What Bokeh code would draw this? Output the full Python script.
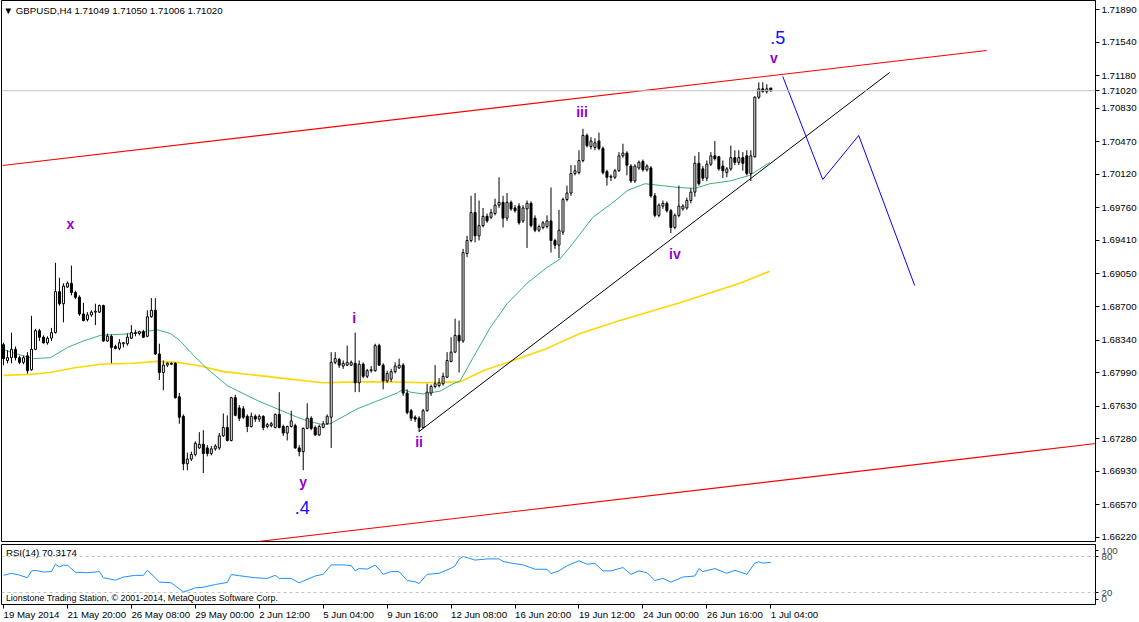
from bokeh.plotting import figure
from bokeh.models import Range1d, FixedTicker, Span, Label
from bokeh.layouts import column
from bokeh.embed import file_html
from bokeh.resources import INLINE
from bokeh.core.properties import value

FONT = "Liberation Sans"

# ---------------- data (GBPUSD H4) ----------------
opens = [1.6829,1.6812,1.6815,1.6824,1.6815,1.6810,1.6817,1.6802,1.6824,1.6844,1.6837,1.6831,1.6836,1.6842,1.6886,1.6873,1.6891,1.6895,1.6885,1.6880,
         1.6862,1.6856,1.6861,1.6864,1.6864,1.6871,1.6833,1.6838,1.6827,1.6825,1.6830,1.6830,1.6836,1.6841,1.6841,1.6843,1.6838,1.6859,1.6866,1.6819,
         1.6799,1.6807,1.6808,1.6809,1.6773,1.6752,1.6701,1.6706,1.6711,1.6718,1.6722,1.6718,1.6712,1.6717,1.6718,1.6731,1.6740,1.6726,1.6772,1.6761,
         1.6760,1.6752,1.6741,1.6752,1.6749,1.6752,1.6741,1.6742,1.6740,1.6754,1.6741,1.6734,1.6741,1.6742,1.6718,1.6714,1.6739,1.6750,1.6740,1.6732,
         1.6740,1.6744,1.6751,1.6810,1.6813,1.6806,1.6807,1.6807,1.6809,1.6788,1.6808,1.6795,1.6801,1.6801,1.6828,1.6807,1.6790,1.6792,1.6800,1.6804,
         1.6807,1.6777,1.6758,1.6751,1.6750,1.6740,1.6758,1.6777,1.6784,1.6785,1.6787,1.6794,1.6811,1.6821,1.6839,1.6833,1.6927,1.6941,1.6971,1.6946,
         1.6957,1.6967,1.6966,1.6970,1.6979,1.6982,1.6965,1.6982,1.6976,1.6978,1.6962,1.6975,1.6981,1.6965,1.6952,1.6955,1.6956,1.6962,1.6941,1.6936,
         1.6950,1.6985,1.6992,1.7013,1.7014,1.7027,1.7054,1.7042,1.7041,1.7048,1.7040,1.7015,1.7009,1.7009,1.7016,1.7032,1.7035,1.7021,1.7005,1.7019,
         1.7026,1.7017,1.7019,1.6989,1.6968,1.6978,1.6981,1.6973,1.6955,1.6968,1.6975,1.6976,1.6984,1.6993,1.7024,1.7018,1.7008,1.7023,1.7032,1.7031,
         1.7021,1.7014,1.7018,1.7030,1.7025,1.7030,1.7032,1.7013,1.7031,1.7095,1.7104,1.7101,1.71049]
highs = [1.6831,1.6823,1.6842,1.6827,1.6817,1.6817,1.6821,1.6860,1.6846,1.6846,1.6839,1.6838,1.6847,1.6917,1.6901,1.6895,1.6897,1.6914,1.6887,1.6882,
         1.6874,1.6864,1.6866,1.6873,1.6872,1.6872,1.6841,1.6840,1.6829,1.6835,1.6832,1.6841,1.6850,1.6845,1.6844,1.6845,1.6866,1.6879,1.6879,1.6830,
         1.6812,1.6810,1.6810,1.6810,1.6777,1.6754,1.6713,1.6714,1.6725,1.6735,1.6737,1.6721,1.6720,1.6722,1.6734,1.6755,1.6753,1.6773,1.6775,1.6764,
         1.6763,1.6754,1.6756,1.6754,1.6754,1.6753,1.6745,1.6746,1.6755,1.6778,1.6743,1.6742,1.6758,1.6744,1.6721,1.6740,1.6766,1.6752,1.6742,1.6743,
         1.6747,1.6754,1.6821,1.6821,1.6815,1.6812,1.6828,1.6812,1.6842,1.6812,1.6810,1.6803,1.6806,1.6830,1.6830,1.6809,1.6801,1.6803,1.6810,1.6814,
         1.6809,1.6781,1.6760,1.6753,1.6752,1.6760,1.6787,1.6786,1.6807,1.6793,1.6799,1.6821,1.6837,1.6857,1.6855,1.6932,1.6946,1.6989,1.6992,1.6984,
         1.6976,1.6970,1.6975,1.6986,1.7009,1.6989,1.6992,1.6984,1.6979,1.6981,1.6979,1.6984,1.6983,1.6968,1.6958,1.6962,1.6968,1.6998,1.6943,1.6974,
         1.6987,1.7000,1.7022,1.7022,1.7038,1.7061,1.7056,1.7052,1.7051,1.7057,1.7042,1.7017,1.7012,1.7018,1.7036,1.7045,1.7037,1.7023,1.7023,1.7027,
         1.7028,1.7023,1.7021,1.6992,1.6981,1.6984,1.6983,1.6975,1.6970,1.7000,1.6980,1.6987,1.6997,1.7032,1.7036,1.7021,1.7027,1.7036,1.7048,1.7032,
         1.7027,1.7020,1.7043,1.7038,1.7038,1.7036,1.7038,1.7038,1.7096,1.7111,1.7111,1.7109,1.71050]
lows = [1.6807,1.6809,1.6809,1.6812,1.6808,1.6808,1.6798,1.6801,1.6823,1.6833,1.6830,1.6829,1.6833,1.6841,1.6871,1.6853,1.6890,1.6882,1.6878,1.6860,
        1.6854,1.6854,1.6859,1.6850,1.6863,1.6832,1.6832,1.6809,1.6824,1.6823,1.6826,1.6828,1.6835,1.6838,1.6839,1.6836,1.6837,1.6858,1.6818,1.6791,
        1.6780,1.6805,1.6807,1.6771,1.6744,1.6694,1.6694,1.6704,1.6709,1.6717,1.6691,1.6709,1.6710,1.6715,1.6716,1.6730,1.6725,1.6725,1.6752,1.6747,
        1.6749,1.6735,1.6740,1.6746,1.6746,1.6737,1.6739,1.6740,1.6739,1.6739,1.6731,1.6726,1.6740,1.6717,1.6709,1.6694,1.6738,1.6737,1.6731,1.6731,
        1.6739,1.6743,1.6718,1.6808,1.6804,1.6803,1.6806,1.6806,1.6778,1.6778,1.6793,1.6793,1.6799,1.6800,1.6806,1.6781,1.6788,1.6789,1.6798,1.6803,
        1.6774,1.6754,1.6747,1.6746,1.6735,1.6739,1.6757,1.6774,1.6782,1.6783,1.6785,1.6793,1.6810,1.6820,1.6799,1.6831,1.6923,1.6939,1.6939,1.6941,
        1.6955,1.6960,1.6964,1.6968,1.6976,1.6955,1.6962,1.6973,1.6971,1.6958,1.6960,1.6933,1.6955,1.6950,1.6950,1.6953,1.6954,1.6928,1.6932,1.6922,
        1.6947,1.6983,1.6989,1.7011,1.7012,1.7025,1.7041,1.7039,1.7038,1.7038,1.7012,1.7000,1.7005,1.7007,1.7015,1.7030,1.7011,1.7003,1.7003,1.7017,
        1.7015,1.7015,1.6987,1.6966,1.6966,1.6975,1.6971,1.6949,1.6953,1.6966,1.6973,1.6974,1.6981,1.6988,1.7000,1.7005,1.7005,1.7021,1.7027,1.7016,
        1.7008,1.7009,1.7016,1.7022,1.7022,1.7016,1.7011,1.7005,1.7030,1.7093,1.7100,1.7099,1.71006]
closes = [1.6814,1.6815,1.6824,1.6815,1.6810,1.6815,1.6801,1.6824,1.6844,1.6837,1.6831,1.6836,1.6842,1.6886,1.6873,1.6892,1.6895,1.6885,1.6880,1.6862,
          1.6855,1.6861,1.6864,1.6865,1.6871,1.6833,1.6838,1.6826,1.6825,1.6831,1.6831,1.6837,1.6842,1.6842,1.6843,1.6837,1.6859,1.6866,1.6819,1.6799,
          1.6807,1.6809,1.6809,1.6772,1.6751,1.6701,1.6706,1.6711,1.6723,1.6722,1.6712,1.6712,1.6717,1.6720,1.6731,1.6740,1.6726,1.6772,1.6753,1.6750,
          1.6751,1.6741,1.6752,1.6749,1.6752,1.6740,1.6743,1.6744,1.6754,1.6740,1.6734,1.6741,1.6747,1.6718,1.6714,1.6739,1.6750,1.6739,1.6732,1.6741,
          1.6744,1.6752,1.6810,1.6814,1.6807,1.6809,1.6810,1.6810,1.6788,1.6808,1.6795,1.6801,1.6802,1.6828,1.6807,1.6790,1.6798,1.6800,1.6806,1.6807,
          1.6777,1.6756,1.6750,1.6749,1.6740,1.6758,1.6778,1.6784,1.6787,1.6788,1.6795,1.6812,1.6821,1.6839,1.6833,1.6928,1.6941,1.6971,1.6946,1.6957,
          1.6967,1.6962,1.6971,1.6979,1.6982,1.6965,1.6982,1.6975,1.6973,1.6960,1.6976,1.6981,1.6957,1.6952,1.6956,1.6960,1.6962,1.6941,1.6936,1.6952,
          1.6985,1.6992,1.7013,1.7016,1.7027,1.7054,1.7043,1.7048,1.7046,1.7040,1.7014,1.7009,1.7010,1.7016,1.7032,1.7035,1.7022,1.7005,1.7021,1.7025,
          1.7017,1.7021,1.6989,1.6968,1.6979,1.6981,1.6973,1.6955,1.6968,1.6978,1.6978,1.6984,1.6993,1.7024,1.7002,1.7008,1.7023,1.7032,1.7029,1.7018,
          1.7016,1.7018,1.7030,1.7025,1.7030,1.7024,1.7013,1.7032,1.7095,1.7104,1.7101,1.7104,1.71020]

# moving averages (read as vertices: bar index, price)
ma_fast_bar = [0,1.75,7.5,11.75,16,20,24.25,32.5,38.5,41.75,44.25,46.75,51,56,63.5,68.5,73.5,76.75,80,81.75,88.5,95,98.5,100,101.75,105,109.25,
               112.5,114.25,117.5,121.75,126,131,136,139.25,142.5,147.5,152.25,156.25,160.5,164.75,168.75,173,176.75,181.75,186.75,189.25,191.75]
ma_fast_val = [1.6824,1.6821,1.6814,1.6815,1.6826,1.6833,1.6839,1.6841,1.6845,1.6841,1.6833,1.6821,1.6803,1.6785,1.6769,1.6760,1.6751,1.6746,1.6743,1.6744,
               1.6760,1.6771,1.6777,1.6781,1.6778,1.6776,1.6779,1.6787,1.6790,1.6815,1.6847,1.6873,1.6895,1.6912,1.6921,1.6938,1.6966,1.6981,1.6995,1.7002,
               1.7000,1.6998,1.6997,1.7002,1.7005,1.7011,1.7018,1.7025]
ma_slow_bar = [0,6,11.75,17.5,24.25,32.5,38.5,43.5,49.25,55,63.5,71.75,80,88.5,96.75,105,114.25,120,127.5,136,144.25,154.25,169.25,184.25,191.75]
ma_slow_val = [1.6796,1.6797,1.6799,1.6804,1.6808,1.6809,1.6811,1.6810,1.6806,1.6800,1.6796,1.6792,1.6788,1.6789,1.6789,1.6788,1.6789,1.6801,1.6812,
               1.6825,1.6841,1.6855,1.6874,1.6895,1.6908]

# RSI(14) vertices
rsi_bar = [0,2,4,6,7,8,10,12,13,14,15,16,18,21,24,25,28,30,33,35,36,38,39,42,45,46,48,50,53,54,56,57,59,63,66,68,69,72,74,75,78,80,82,85,87,88,89,
           91,93,94,95,97,99,101,103,104,106,109,112,113,114,115,118,121,124,125,127,130,133,136,137,139,141,144,146,148,150,152,155,157,159,161,163,
           165,167,170,173,174,175,178,181,183,186,188,189,190,192]
rsi_val = [48.6,52,49,44.6,56,57,54,55,67,62.7,65.5,65.5,53.7,53,54.8,44.6,40.7,45.8,48.6,48.6,57,44.6,37.3,36,20.9,23,27.7,28.8,33.3,34.5,36.7,50,48,
           44.6,43.5,48.6,43.5,43.5,36,39,47.5,50.3,66,66,64.9,56,59.9,59,65.5,58.8,50.3,54.8,54.8,40,37.9,35,50.3,52,60.5,64.4,75.7,80.2,74,76,76,71.8,
           69,66,58.8,58.8,51.4,56,64.4,72.9,67.2,68.4,56,56,61.6,50.3,56,53,40,43.5,37.3,45.8,47.5,59.9,54.8,59.9,52,57,50.3,69,71.2,69,70.3174]

# drawn objects (bar index, price)
chan_up_bar, chan_up_val = [-0.25, 246], [1.70216, 1.71453]
chan_lo_bar, chan_lo_val = [63.75, 273.5], [1.66174, 1.67228]
trend_bar, trend_val = [104, 221.75], [1.67357, 1.71216]
proj_bar, proj_val = [195, 205, 214, 228], [1.71173, 1.70066, 1.70539, 1.68926]
last_price = 1.71020

wave_text = ["x", "i", "ii", "iii", "iv", "v", "y"]
wave_bar = [16.75, 87.75, 104, 144.75, 168, 192.75, 75]
wave_val = [1.69582, 1.68582, 1.67239, 1.70786, 1.69260, 1.71377, 1.66809]
deg_text = [".5", ".4"]
deg_bar = [193.75, 74.75]
deg_val = [1.71592, 1.66540]

price_ticks = [1.6622, 1.6657, 1.6693, 1.6728, 1.6763, 1.6799, 1.6834, 1.6870, 1.6905,
               1.6941, 1.6976, 1.7012, 1.7047, 1.7083, 1.7102, 1.7118, 1.7154, 1.7189]
price_labels = ["1.66220", "1.66570", "1.66930", "1.67280", "1.67630", "1.67990", "1.68340", "1.68700", "1.69050",
                "1.69410", "1.69760", "1.70120", "1.70470", "1.70830", "1.71020", "1.71180", "1.71540", "1.71890"]
rsi_ticks = [9, 20, 80, 90]
rsi_tick_labels = ["0", "20", "80", "100"]
date_ticks = [0, 16, 32, 48, 64, 80, 96, 112, 128, 144, 160, 176, 192]
date_labels = ["19 May 2014", "21 May 20:00", "26 May 08:00", "29 May 00:00", "2 Jun 12:00", "5 Jun 04:00",
               "9 Jun 16:00", "12 Jun 08:00", "16 Jun 20:00", "19 Jun 12:00", "24 Jun 00:00", "26 Jun 16:00", "1 Jul 04:00"]

# ---------------- figures ----------------
W = 1139
xr = Range1d(-0.5, 273.25)
FS = "9.7px"

p = figure(width=W, height=542, x_range=xr, y_range=Range1d(1.66174, 1.7199),
           output_backend="svg", toolbar_location=None, title=None,
           y_axis_location="right", x_axis_location=None,
           min_border_left=1, min_border_right=43, min_border_top=0, min_border_bottom=1,
           outline_line_color="black", outline_line_width=1)
p.grid.visible = False
ax = p.yaxis[0]
ax.ticker = FixedTicker(ticks=price_ticks)
ax.major_label_overrides = dict(zip(price_ticks, price_labels))
ax.major_tick_out = 4
ax.major_tick_in = 0
ax.minor_tick_out = 0
ax.minor_tick_in = 0
ax.major_label_standoff = 2
ax.major_label_text_font = FONT
ax.major_label_text_font_size = FS
ax.major_label_text_color = "black"
ax.axis_line_color = "black"

# current price line
p.add_layout(Span(location=last_price, dimension="width", line_color="#C0C0C0", line_width=1))

# moving averages
p.line(ma_slow_bar, ma_slow_val, line_color="#FFD700", line_width=1.6)
p.line(ma_fast_bar, ma_fast_val, line_color="#3CB371", line_width=1)

# candles
idx = list(range(len(opens)))
up = [c >= o for o, c in zip(opens, closes)]
p.segment(x0=idx, y0=lows, x1=idx, y1=highs, line_color="black", line_width=1)
p.vbar(x=[i for i in idx if up[i]], width=0.5,
       top=[closes[i] for i in idx if up[i]], bottom=[opens[i] for i in idx if up[i]],
       fill_color="white", line_color="black", line_width=1)
p.vbar(x=[i for i in idx if not up[i]], width=0.5,
       top=[opens[i] for i in idx if not up[i]], bottom=[closes[i] for i in idx if not up[i]],
       fill_color="black", line_color="black", line_width=1)

# channel, trend line, projection
p.line(chan_up_bar, chan_up_val, line_color="red", line_width=1.1)
p.line(chan_lo_bar, chan_lo_val, line_color="red", line_width=1.1)
p.line(trend_bar, trend_val, line_color="black", line_width=1)
p.line(proj_bar, proj_val, line_color="blue", line_width=1)

# wave labels
p.text(x=wave_bar, y=wave_val, text=wave_text, text_color="#9400D3", text_font=value(FONT),
       text_font_style="bold", text_font_size="14px", text_align="center", text_baseline="middle")
p.text(x=deg_bar, y=deg_val, text=deg_text, text_color="#1010FF", text_font=value(FONT),
       text_font_size="18px", text_align="center", text_baseline="middle")

# header
p.add_layout(Label(x=0.0, y=1.71883, text="\u25bc GBPUSD,H4  1.71049 1.71050 1.71006 1.71020",
                   text_font=FONT, text_font_size=FS, text_baseline="middle", text_color="black"))

# ---------------- RSI panel ----------------
r = figure(width=W, height=67, x_range=xr, y_range=Range1d(0, 100),
           output_backend="svg", toolbar_location=None, title=None,
           y_axis_location="right", x_axis_location="below",
           min_border_left=1, min_border_right=43, min_border_top=2, min_border_bottom=5,
           outline_line_color="black", outline_line_width=1)
r.grid.visible = False
ry = r.yaxis[0]
ry.ticker = FixedTicker(ticks=rsi_ticks)
ry.major_label_overrides = dict(zip(rsi_ticks, rsi_tick_labels))
ry.major_tick_out = 3
ry.major_tick_in = 0
ry.minor_tick_out = 0
ry.minor_tick_in = 0
ry.major_label_standoff = 3
ry.major_label_text_font = FONT
ry.major_label_text_font_size = FS
rx = r.xaxis[0]
rx.ticker = FixedTicker(ticks=date_ticks)
rx.major_label_overrides = {t: "" for t in date_ticks}
rx.major_label_text_font_size = "0px"
rx.major_label_standoff = 0
rx.major_tick_out = 4
rx.major_tick_in = 0
rx.minor_tick_out = 0
rx.minor_tick_in = 0
rx.axis_line_color = None

for lvl in (80, 20):
    r.add_layout(Span(location=lvl, dimension="width", line_color="#C0C0C0", line_dash="3 3", line_width=1))
r.line(rsi_bar, rsi_val, line_color="#1E90FF", line_width=1)

r.add_layout(Label(x=0.6, y=86.5, text="RSI(14) 70.3174", text_font=FONT, text_font_size=FS,
                   text_baseline="middle", text_color="black"))
r.add_layout(Label(x=0.6, y=11, text="Lionstone Trading Station, \u00a9 2001-2014, MetaQuotes Software Corp.",
                   text_font=FONT, text_font_size="8.9px", text_baseline="middle", text_color="black"))

# ---------------- time labels strip ----------------
t = figure(width=W, height=13, x_range=xr, y_range=Range1d(0, 1),
           output_backend="svg", toolbar_location=None, title=None,
           x_axis_location=None, y_axis_location=None,
           min_border_left=1, min_border_right=43, min_border_top=0, min_border_bottom=0,
           outline_line_color=None)
t.grid.visible = False
t.text(x=date_ticks, y=0.62, text=date_labels, text_font=value(FONT), text_font_size=FS,
       text_align="left", text_baseline="middle", text_color="black")

layout = column(p, r, t, spacing=0)
open("out.html", "w").write(file_html(layout, INLINE))
